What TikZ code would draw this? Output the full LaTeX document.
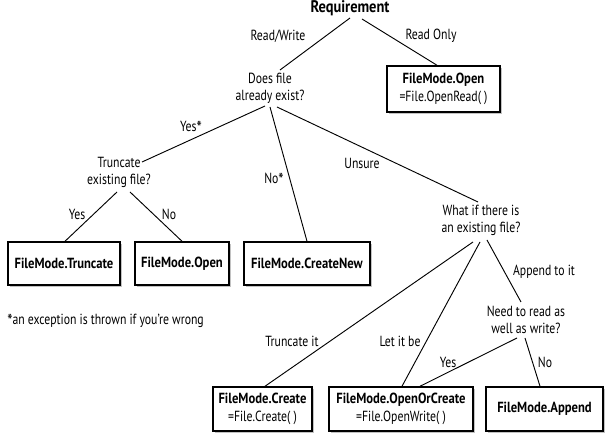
\documentclass[tikz,border=0pt]{standalone}
\usepackage{fontspec}
\setmainfont{PT Sans}[UprightFeatures={FakeStretch=0.8}, BoldFeatures={FakeStretch=0.86}]
\usetikzlibrary{calc,shadows}
\def\px{0.75pt}
\newcommand\lowast{\raisebox{-0.45ex}{\fontsize{14}{14}\selectfont *}}
\tikzset{
  lbl/.style={inner sep=0pt, font=\fontsize{11}{11}\selectfont, align=center},
  qtext/.style={inner sep=0pt, font=\fontsize{11}{12.7}\selectfont, align=center},
  boxnode/.style={draw, line width=1.1pt, fill=white, align=center, inner sep=0pt,
     font=\fontsize{11}{13.3}\selectfont,
     drop shadow={shadow xshift=1.8pt, shadow yshift=-1.8pt, fill=black!40, opacity=.6}},
  conn/.style={line width=0.7pt}
}
\begin{document}
\begin{tikzpicture}[x=0.75pt,y=-0.75pt]
\useasboundingbox (0,0) rectangle (608,445);
% decision / text nodes
\node[qtext, font=\fontsize{12.6}{12}\selectfont\bfseries] (req) at (350,8) {Requirement};
\node[qtext] (does) at (270,88) {Does file\\already exist?};
\node[qtext] (tef) at (119,172) {Truncate\\existing file?};
\node[qtext] (whatif) at (481,220) {What if there is\\an existing file?};
\node[qtext] (need) at (526,320) {Need to read as\\well as write?};
% boxes
\node[boxnode, minimum width=113*\px, minimum height=46*\px] (ro) at (443.5,89) {\textbf{FileMode.Open}\\=File.OpenRead(\ )};
\node[boxnode, minimum width=112*\px, minimum height=43*\px] (trunc) at (64,263.5) {\textbf{FileMode.Truncate}};
\node[boxnode, minimum width=94*\px, minimum height=43*\px] (open) at (182,263.5) {\textbf{FileMode.Open}};
\node[boxnode, minimum width=126*\px, minimum height=43*\px] (cnew) at (307,263.5) {\textbf{FileMode.CreateNew}};
\node[boxnode, minimum width=99*\px, minimum height=44*\px] (create) at (262.5,409) {\textbf{FileMode.Create}\\=File.Create(\ )};
\node[boxnode, minimum width=144*\px, minimum height=44*\px] (ooc) at (401,409) {\textbf{FileMode.OpenOrCreate}\\=File.OpenWrite(\ )};
\node[boxnode, minimum width=117*\px, minimum height=44*\px] (app) at (544.5,409) {\textbf{FileMode.Append}};
% labels
\node[lbl] (lrw) at (278,36) {Read/Write};
\node[lbl] (lro) at (431,36) {Read Only};
\node[lbl] (lys) at (191,128) {Yes\lowast};
\node[lbl] (lns) at (274,180) {No\lowast};
\node[lbl] (lun) at (362,163) {Unsure};
\node[lbl] (ly1) at (77,214) {Yes};
\node[lbl] (ln1) at (169,214) {No};
\node[lbl] (lap) at (544,272) {Append to it};
\node[lbl] (lti) at (292,341) {Truncate it};
\node[lbl] (llb) at (400,341) {Let it be};
\node[lbl] (ly2) at (448,362) {Yes};
\node[lbl] (ln2) at (545,362) {No};
\node[lbl, anchor=west] (foot) at (7,321) {\lowast an exception is thrown if you’re wrong};
% connectors
\draw[conn] ($(req)+(0,10)$) -- ($(does)+(10,-18)$);
\draw[conn] ($(req)+(12,11)$) -- ($(ro.north)+(-6.5,0)$);
\draw[conn] ($(does)+(-5,18)$) -- ($(tef)+(23,-10)$);
\draw[conn] ($(does)+(0,19)$) -- (cnew.north);
\draw[conn] ($(does)+(7,19)$) -- ($(whatif)+(-3,-18)$);
\draw[conn] ($(tef)+(-2,20)$) -- ($(trunc.north)+(1,0)$);
\draw[conn] ($(tef)+(11,20)$) -- (open.north);
\draw[conn] ($(whatif)+(-8,22)$) -- ($(create.north)+(2.5,0)$);
\draw[conn] ($(whatif)+(-1,22)$) -- ($(ooc.north)+(1,0)$);
\draw[conn] ($(whatif)+(6,20)$) -- ($(need)+(-5,-18)$);
\draw[conn] ($(need)+(-9,18)$) -- ($(ooc.north)+(19,0)$);
\draw[conn] ($(need)+(-1,18)$) -- ($(app.north)+(-4.5,0)$);
\end{tikzpicture}
\end{document}
